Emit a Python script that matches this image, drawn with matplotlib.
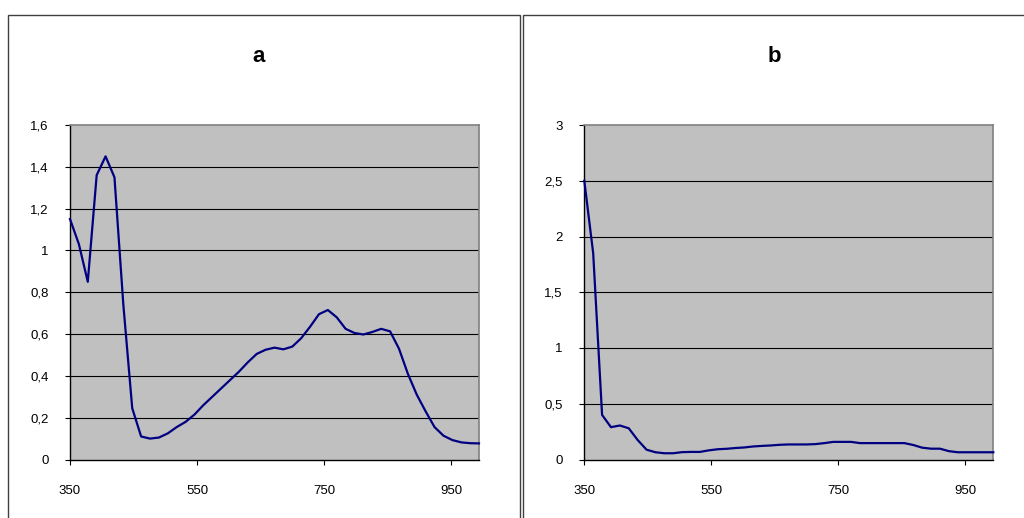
#!/usr/bin/env python3
"""Two Excel-style spectra panels (a, b) on a grey plot area."""

import matplotlib
matplotlib.use("Agg")
import matplotlib.pyplot as plt
from matplotlib.patches import Rectangle

plt.rcParams["font.family"] = ["Liberation Sans", "DejaVu Sans"]

# wavelength (nm), one sample every 14 nm
wavelength = [350, 364, 378, 392, 406, 420, 434, 448, 462, 476, 490, 504,
              518, 532, 546, 560, 574, 588, 602, 616, 630, 644, 658, 672,
              686, 700, 714, 728, 742, 756, 770, 784, 798, 812, 826, 840,
              854, 868, 882, 896, 910, 924, 938, 952, 966, 980, 994]

# panel a
values_a = [1.15, 1.03, 0.85, 1.36, 1.45, 1.35, 0.74, 0.245, 0.11, 0.10,
            0.105, 0.125, 0.155, 0.18, 0.215, 0.26, 0.30, 0.34, 0.38, 0.42,
            0.465, 0.505, 0.525, 0.535, 0.527, 0.54, 0.58, 0.635, 0.695,
            0.715, 0.68, 0.625, 0.605, 0.598, 0.61, 0.625, 0.613, 0.53,
            0.41, 0.31, 0.23, 0.155, 0.114, 0.093, 0.082, 0.078, 0.077]

# panel b
values_b = [2.5, 1.85, 0.40, 0.29, 0.305, 0.28, 0.175, 0.088, 0.065, 0.056,
            0.056, 0.066, 0.068, 0.068, 0.082, 0.092, 0.096, 0.103, 0.108,
            0.117, 0.122, 0.126, 0.132, 0.135, 0.135, 0.135, 0.138, 0.147,
            0.158, 0.158, 0.158, 0.147, 0.147, 0.147, 0.147, 0.147, 0.147,
            0.13, 0.106, 0.097, 0.097, 0.075, 0.065, 0.065, 0.065, 0.065,
            0.065]

x_ticks = [350, 550, 750, 950]
y_ticks_a = [0, 0.2, 0.4, 0.6, 0.8, 1.0, 1.2, 1.4, 1.6]
y_labels_a = ["0", "0,2", "0,4", "0,6", "0,8", "1", "1,2", "1,4", "1,6"]
y_ticks_b = [0, 0.5, 1.0, 1.5, 2.0, 2.5, 3.0]
y_labels_b = ["0", "0,5", "1", "1,5", "2", "2,5", "3"]

W, H = 1024, 518


def style_panel(ax, values, yticks, ylabels, title):
    ax.set_facecolor("#C0C0C0")
    ax.plot(wavelength, values, color="#000080", linewidth=1.6,
            solid_joinstyle="round", zorder=3, clip_on=False)
    ax.set_xlim(350, 994)
    ax.set_ylim(yticks[0], yticks[-1])
    ax.set_xticks(x_ticks)
    ax.set_xticklabels([str(t) for t in x_ticks])
    ax.set_yticks(yticks)
    ax.set_yticklabels(ylabels)
    for y in yticks[1:-1]:
        ax.axhline(y, color="black", linewidth=0.8, zorder=2)
    for side in ("top", "right"):
        ax.spines[side].set_color("#808080")
        ax.spines[side].set_linewidth(1.2)
    for side in ("left", "bottom"):
        ax.spines[side].set_color("black")
        ax.spines[side].set_linewidth(1.0)
    ax.tick_params(axis="y", direction="out", length=3.5, width=0.8,
                   pad=12, labelsize=9.5, colors="black")
    ax.tick_params(axis="x", direction="out", length=3.5, width=0.8,
                   pad=15, labelsize=9.5, colors="black")


fig = plt.figure(figsize=(W / 100, H / 100), dpi=100, facecolor="white")

# chart-area frames
fig.patches.append(Rectangle((8 / W, -0.1), 512 / W, 1.1 - 15.5 / H,
                             transform=fig.transFigure, fill=False,
                             edgecolor="#404040", linewidth=1.0))
fig.patches.append(Rectangle((523 / W, -0.1), 600 / W, 1.1 - 15.5 / H,
                             transform=fig.transFigure, fill=False,
                             edgecolor="#404040", linewidth=1.0))

bottom = (H - 459.5) / H
height = 334.5 / H
ax_a = fig.add_axes([70 / W, bottom, 409 / W, height])
ax_b = fig.add_axes([584.3 / W, bottom, 409 / W, height])

style_panel(ax_a, values_a, y_ticks_a, y_labels_a, "a")
style_panel(ax_b, values_b, y_ticks_b, y_labels_b, "b")

fig.text(259 / W, 1 - 57 / H, "a", ha="center", va="center",
         fontsize=16, fontweight="bold")
fig.text(774 / W, 1 - 57 / H, "b", ha="center", va="center",
         fontsize=16, fontweight="bold")

fig.savefig("out.png", dpi=100, facecolor="white")
